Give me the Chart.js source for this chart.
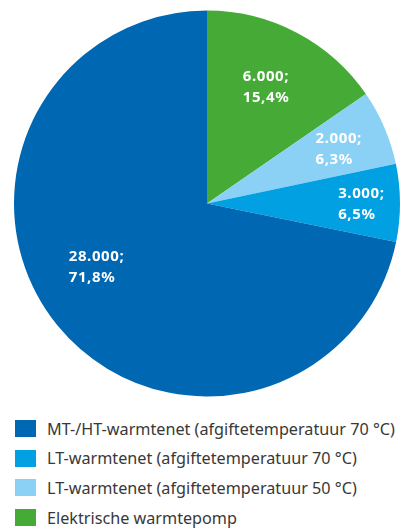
<!DOCTYPE html>
<html lang="nl">
<head>
<meta charset="UTF-8">
<title>Warmtevoorziening</title>
<script src="https://cdn.jsdelivr.net/npm/chart.js@4.4.1/dist/chart.umd.min.js"></script>
<style>
  body { margin: 0; background: #fff; width: 400px; height: 529px; overflow: hidden; position: relative; font-family: "Noto Sans", sans-serif; }
  #pie { position: absolute; left: 0; top: 0; }
  #legend { position: absolute; left: 15px; top: 414px; }
  .row { display: flex; align-items: center; height: 29.6px; }
  .box { width: 21px; height: 17px; margin-right: 11px; flex: none; }
  .txt { font-size: 16.2px; color: #383838; white-space: nowrap; }
</style>
</head>
<body>
<canvas id="pie" width="400" height="410"></canvas>
<div id="legend"></div>

<script>
// slices clockwise from 12 o'clock
var categories = ['Elektrische warmtepomp', 'LT-warmtenet (afgiftetemperatuur 50 °C)', 'LT-warmtenet (afgiftetemperatuur 70 °C)', 'MT-/HT-warmtenet (afgiftetemperatuur 70 °C)'];
var amounts = ['6.000', '2.000', '3.000', '28.000'];
var percents = [15.4, 6.3, 6.5, 71.8];
var colors = ['#46ab36', '#8bd1f5', '#00a0e2', '#0067b2'];

// labels sit at a fraction of the radius, shifted a bit from the slice middle (degrees)
var labelPlace = [
    { r: 0.68, shift: -1 },
    { r: 0.74, shift: 0.5 },
    { r: 0.80, shift: 0.2 },
    { r: 0.66, shift: 9.4 }
];

var sliceLabels = {
    id: 'sliceLabels',
    afterDatasetsDraw: function(chart) {
        var ctx = chart.ctx;
        var meta = chart.getDatasetMeta(0);
        ctx.save();
        ctx.fillStyle = '#ffffff';
        ctx.font = 'bold 15px "Noto Sans"';
        ctx.letterSpacing = '0.6px';
        ctx.textAlign = 'left';
        ctx.textBaseline = 'alphabetic';
        meta.data.forEach(function(arc, i) {
            var p = arc.getProps(['x', 'y', 'startAngle', 'endAngle', 'outerRadius'], true);
            var mid = (p.startAngle + p.endAngle) / 2 + labelPlace[i].shift * Math.PI / 180;
            var d = p.outerRadius * labelPlace[i].r;
            var cx = p.x + Math.cos(mid) * d;
            var cy = p.y + Math.sin(mid) * d;
            var line1 = amounts[i] + ';';
            var line2 = percents[i].toFixed(1).replace('.', ',') + '%';
            var w = Math.max(ctx.measureText(line1).width, ctx.measureText(line2).width);
            var x = cx - w / 2;
            ctx.fillText(line1, x, cy - 5.5);
            ctx.fillText(line2, x, cy + 15.5);
        });
        ctx.restore();
    }
};

new Chart(document.getElementById('pie'), {
    type: 'pie',
    data: {
        labels: categories,
        datasets: [{
            data: percents,
            backgroundColor: colors,
            borderWidth: 0
        }]
    },
    options: {
        responsive: false,
        animation: false,
        layout: { padding: { left: 14, right: 0, top: 10, bottom: 13 } },
        plugins: {
            legend: { display: false },
            tooltip: { enabled: false }
        }
    },
    plugins: [sliceLabels]
});

// legend, reversed order
var legend = document.getElementById('legend');
for (var i = categories.length - 1; i >= 0; i--) {
    var row = document.createElement('div');
    row.className = 'row';
    row.innerHTML = '<div class="box" style="background:' + colors[i] + '"></div><span class="txt">' + categories[i] + '</span>';
    legend.appendChild(row);
}
</script>
</body>
</html>
